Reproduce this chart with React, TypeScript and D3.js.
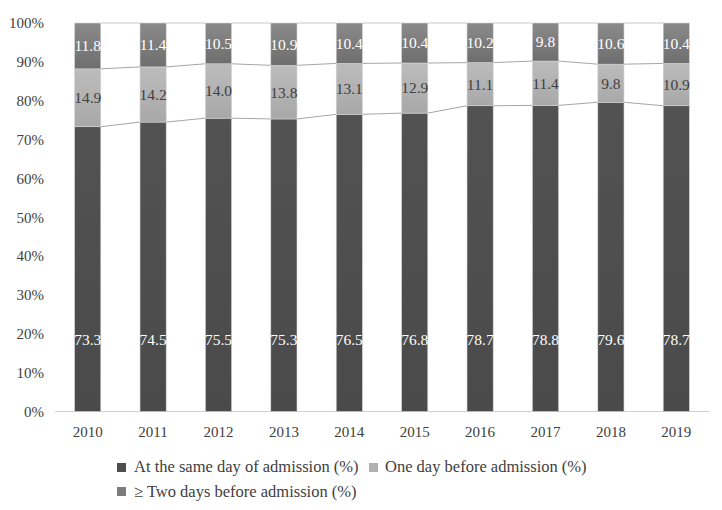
import * as d3 from 'd3'

const years = ['2010', '2011', '2012', '2013', '2014', '2015', '2016', '2017', '2018', '2019']
const sameDay = [73.3, 74.5, 75.5, 75.3, 76.5, 76.8, 78.7, 78.8, 79.6, 78.7]
const oneDay = [14.9, 14.2, 14.0, 13.8, 13.1, 12.9, 11.1, 11.4, 9.8, 10.9]
const twoDays = [11.8, 11.4, 10.5, 10.9, 10.4, 10.4, 10.2, 9.8, 10.6, 10.4]
const yTicks = [0, 10, 20, 30, 40, 50, 60, 70, 80, 90, 100]
const seriesNames = ['At the same day of admission (%)', 'One day before admission (%)', '\u2265 Two days before admission (%)']

const W = 722
const H = 510
const font = '"Liberation Serif", "Times New Roman", serif'

export default function App() {
  const x = d3.scaleBand<string>().domain(years).range([55, 709]).paddingInner(0.6).paddingOuter(0.3)
  const y = d3.scaleLinear().domain([0, 100]).range([411.5, 23])
  const bw = x.bandwidth()

  const rows = years.map((yr, i) => {
    const a = sameDay[i]
    const b = oneDay[i]
    return { yr, segs: [[0, a, a], [a, a + b, b], [a + b, 100, twoDays[i]]] as [number, number, number][] }
  })

  const fills = ['url(#g0)', 'url(#g1)', 'url(#g2)']
  const textColors = ['#ffffff', '#404040', '#ffffff']

  return (
    <svg width={W} height={H} style={{ position: 'absolute', left: 0, top: 0, fontFamily: font }}>
      <defs>
        <linearGradient id="g0" x1="0" y1="0" x2="0" y2="1">
          <stop offset="0" stopColor="#525252" />
          <stop offset="1" stopColor="#4a4a4a" />
        </linearGradient>
        <linearGradient id="g1" x1="0" y1="0" x2="0" y2="1">
          <stop offset="0" stopColor="#bcbcbc" />
          <stop offset="1" stopColor="#a8a8a8" />
        </linearGradient>
        <linearGradient id="g2" x1="0" y1="0" x2="0" y2="1">
          <stop offset="0" stopColor="#8a8a8a" />
          <stop offset="1" stopColor="#6e6e6e" />
        </linearGradient>
      </defs>
      <rect width={W} height={H} fill="#fff" />

      {/* y axis labels */}
      {yTicks.map(t => (
        <text key={t} x={44} y={y(t)} dy="0.35em" textAnchor="end" fontSize={15} fill="#404040">
          {t}%
        </text>
      ))}

      {/* baseline */}
      <line x1={55} x2={709} y1={y(0)} y2={y(0)} stroke="#d0d0d0" strokeWidth={1} />

      {/* series lines */}
      {rows.slice(0, -1).map((r, i) => {
        const nx = rows[i + 1]
        return [1, 2].map(k => (
          <line
            key={r.yr + k}
            x1={(x(r.yr) ?? 0) + bw}
            x2={x(nx.yr) ?? 0}
            y1={y(r.segs[k][0])}
            y2={y(nx.segs[k][0])}
            stroke="#a6a6a6"
            strokeWidth={1}
          />
        )).concat(
          <line
            key={r.yr + 'top'}
            x1={(x(r.yr) ?? 0) + bw}
            x2={x(nx.yr) ?? 0}
            y1={y(100)}
            y2={y(100)}
            stroke="#c8c8c8"
            strokeWidth={1}
          />
        )
      })}

      {/* bars */}
      {rows.map(r => (
        <g key={r.yr}>
          {r.segs.map((s, k) => (
            <rect
              key={k}
              x={x(r.yr)}
              y={y(s[1])}
              width={bw}
              height={y(s[0]) - y(s[1])}
              fill={fills[k]}
              stroke="#d4d4d4"
              strokeWidth={0.6}
            />
          ))}
          {r.segs.map((s, k) => (
            <text
              key={'t' + k}
              x={(x(r.yr) ?? 0) + bw / 2}
              y={k === 0 ? y(18.5) : y((s[0] + s[1]) / 2)}
              dy="0.35em"
              textAnchor="middle"
              fontSize={15.5}
              fill={textColors[k]}
            >
              {s[2].toFixed(1)}
            </text>
          ))}
          <text x={(x(r.yr) ?? 0) + bw / 2} y={437} textAnchor="middle" fontSize={15} fill="#404040">
            {r.yr}
          </text>
        </g>
      ))}

      {/* legend */}
      <g fontSize={16.5} fill="#404040">
        <rect x={117} y={463} width={9} height={9} fill="#4e4e4e" />
        <text x={134} y={472}>{seriesNames[0]}</text>
        <rect x={369} y={463} width={9} height={9} fill="#b0b0b0" />
        <text x={385} y={472}>{seriesNames[1]}</text>
        <rect x={117} y={487} width={9} height={9} fill="#7c7c7c" />
        <text x={134} y={497}>{seriesNames[2]}</text>
      </g>
    </svg>
  )
}
